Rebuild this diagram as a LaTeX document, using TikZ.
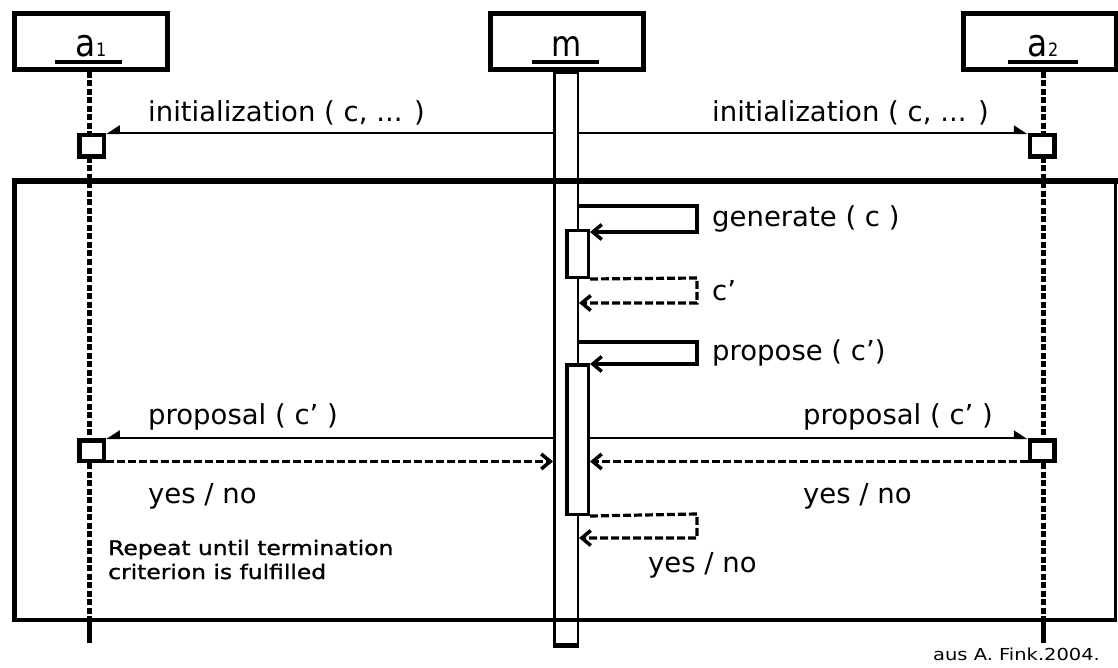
\documentclass[tikz,border=0pt]{standalone}
\usepackage{fontspec}
\setmainfont{DejaVu Sans}
\newfontfamily\widefont[FakeStretch=1.18]{DejaVu Sans}
\newfontfamily\repfont[FakeStretch=1.17,FakeBold=1.3]{DejaVu Sans}
\usetikzlibrary{arrows.meta}
\begin{document}
\begin{tikzpicture}[x=1pt,y=-1pt,
  actor/.style={draw,line width=5pt,fill=white,minimum width=153pt,minimum height=56pt,inner sep=0pt},
  actbox/.style={draw,line width=4.5pt,fill=white,inner sep=0pt,minimum width=24.5pt},
  lifeline/.style={line width=4.5pt,dash pattern=on 6pt off 2.5pt},
  act/.style={draw,line width=3.5pt,fill=white,inner sep=0pt,minimum width=21.5pt},
  msg/.style={line width=2.2pt},
  selfcall/.style={line width=3.2pt},
  ret/.style={line width=3.2pt,dash pattern=on 8pt off 3pt},
  tipB/.style={-{Straight Barb[length=9pt,width=15pt,line width=3.5pt]}},
  hpL/.style={-{Triangle[length=12pt,width=15pt,harpoon,swap]}},
  hpR/.style={-{Triangle[length=12pt,width=15pt,harpoon]}},
  lbl/.style={anchor=base west,inner sep=0pt,font=\fontsize{27.5}{33}\selectfont},
  boxlbl/.style={anchor=base,inner sep=0pt},
  uline/.style={line width=4pt}
]
\useasboundingbox (0,0) rectangle (1118,668);

% lifeline of m
\node[draw,line width=2.5pt,fill=white,minimum width=23.5pt,minimum height=572.5pt,inner sep=0pt] (mlife) at (566,359.5) {};
\draw[line width=5pt] ([yshift=1.25pt]mlife.south west) -- ([yshift=1.25pt]mlife.south east);

% frame of the loop
\draw[line width=6pt] (12,181) -- (1118,181);
\draw[line width=5pt] (14.5,178) -- (14.5,622);
\draw[line width=4pt] (12,620) -- (1117,620);
\draw[line width=3pt] (1115.5,178) -- (1115.5,622);

% actor boxes
\node[actor] (a1) at (91,41.5) {};
\node[actor] (m) at (566.5,41.5) {};
\node[actor] (a2) at (1040,41.5) {};

\node[boxlbl] (a1t) at (91,57) {\scalebox{1}[1.15]{\fontsize{33}{33}\selectfont a\fontsize{16}{16}\selectfont 1}};
\node[boxlbl] (mt) at (567,57) {\scalebox{1}[1.15]{\fontsize{31}{31}\selectfont m}};
\node[boxlbl] (a2t) at (1043,57) {\scalebox{1}[1.15]{\fontsize{33}{33}\selectfont a\fontsize{16}{16}\selectfont 2}};
\draw[uline] (55,62) -- (122,62);
\draw[uline] (532,62) -- (599,62);
\draw[uline] (1008,62) -- (1078,62);

% lifelines of a1, a2
\coordinate (a1end) at (89.5,643);
\coordinate (a2end) at (1043.5,643);
\coordinate (a1fr) at (89.5,621);
\coordinate (a2fr) at (1043.5,621);
\draw[lifeline] (a1.south -| a1end) -- (a1fr);
\draw[line width=4.5pt] (a1fr) -- (a1end);
\draw[lifeline] (a2.south -| a2end) -- (a2fr);
\draw[line width=4.5pt] (a2fr) -- (a2end);

% activation boxes on a1, a2
\node[actbox,minimum height=21.5pt] (b1) at (91.5,146) {};
\node[actbox,minimum height=21.5pt] (b2) at (1042,146) {};
\node[actbox,minimum height=20.5pt] (p1) at (91.5,450.5) {};
\node[actbox,minimum height=20.5pt] (p2) at (1042,450.5) {};

% activation boxes on m
\node[act,minimum height=46.5pt] (act1) at (577.5,254) {};
\node[act,minimum height=149.5pt] (act2) at (577.5,439.5) {};

% initialization messages
\draw[msg,hpL] (mlife.west |- b1.north east) -- (b1.north east);
\draw[msg,hpR] (mlife.east |- b2.north west) -- (b2.north west);
\node[lbl] (init1) at (148,122) {initialization ( c, ... )};
\node[lbl] (init2) at (712,122) {initialization ( c, ... )};

% self calls
\draw[selfcall,tipB] (mlife.east |- 0,206) -- (697,206) -- (697,232) -- (act1.east |- 0,232);
\node[lbl] (gen) at (712,227) {generate ( c )};
\draw[ret,tipB] (act1.south east) -- (697,278) -- (697,303) -- (mlife.east |- 0,303);
\node[lbl] (cp) at (712,300) {c’};
\draw[selfcall,tipB] (mlife.east |- 0,342) -- (697,342) -- (697,364) -- (act2.east |- 0,364);
\node[lbl] (prop) at (712,360) {propose ( c’)};
\draw[ret,tipB] (act2.south east) -- (697,514) -- (697,538) -- (mlife.east |- 0,538);
\node[lbl] (yn3) at (648,572) {yes / no};

% proposals
\draw[msg,hpL] (mlife.west |- p1.north east) -- (p1.north east);
\draw[msg,hpR] (act2.east |- p2.north west) -- (p2.north west);
\node[lbl] (pr1) at (148,424) {proposal ( c’ )};
\node[lbl] (pr2) at (803,424) {proposal ( c’ )};
\coordinate (r1) at ([yshift=1.5pt]p1.south east);
\coordinate (r2) at ([yshift=1.5pt]p2.south west);
\draw[ret,tipB] (r1) -- (mlife.west |- r1);
\draw[ret,tipB] (r2) -- (act2.east |- r2);
\node[lbl] (yn1) at (148,503) {yes / no};
\node[lbl] (yn2) at (803,503) {yes / no};

% notes
\node[anchor=base west,inner sep=0pt,align=left,font=\repfont\fontsize{20}{24}\selectfont] (rep) at (108,579) {Repeat until termination\\criterion is fulfilled};
\node[anchor=base west,inner sep=0pt,font=\widefont\fontsize{16.5}{18}\selectfont] (src) at (933,660) {aus A. Fink.2004.};
\end{tikzpicture}
\end{document}
